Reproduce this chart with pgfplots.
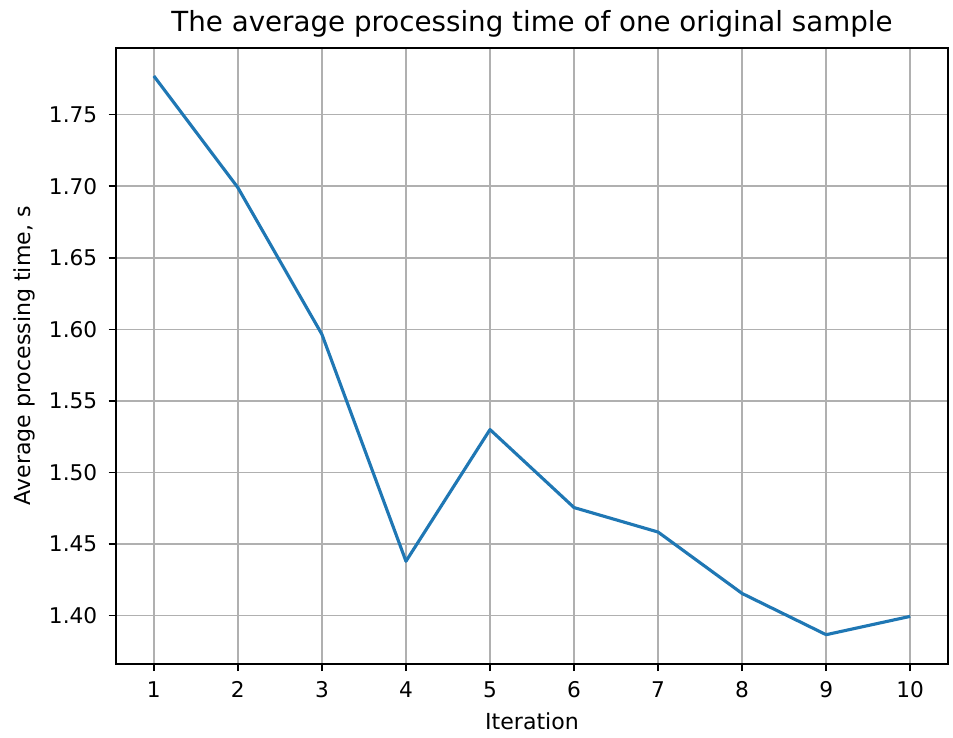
\documentclass[border=0pt]{standalone}
\usepackage{fontspec}
\setmainfont{DejaVu Sans}
\usepackage{pgfplots}
\pgfplotsset{compat=1.18}
\usetikzlibrary{calc}
\definecolor{mplblue}{HTML}{1F77B4}
\definecolor{mplgrid}{HTML}{B0B0B0}
\begin{document}
\begin{tikzpicture}
\begin{axis}[
  name=ax,
  scale only axis,
  width=399.4pt, height=295.7pt,
  xmin=0.55, xmax=10.45,
  ymin=1.3663, ymax=1.7966,
  xtick={1,...,10},
  ytick={1.40,1.45,1.50,1.55,1.60,1.65,1.70,1.75},
  yticklabel style={xshift=-2pt, /pgf/number format/.cd, fixed, fixed zerofill, precision=2},
  /pgf/number format/assume math mode=true,
  tick align=outside,
  xtick pos=bottom, ytick pos=left,
  major tick length=3.5pt,
  every tick/.style={black, line width=0.8pt},
  grid=major,
  major grid style={mplgrid, line width=0.8pt},
  axis line style={black, line width=0.8pt},
  tick label style={font=\fontsize{10.4}{12}\selectfont},
  xticklabel style={yshift=-1.5pt},
  label style={font=\fontsize{10.6}{12}\selectfont},
  title style={font=\fontsize{13.3}{15}\selectfont, at={(axis description cs:0.5,1)}, anchor=base, yshift=1.9pt},
  title={The average processing time of one original sample},
  xlabel={Iteration},
  xlabel style={at={(axis description cs:0.5,0)}, anchor=center, yshift=-27.4pt},
  ylabel={Average processing time, s},
  ylabel style={at={(axis description cs:0,0.5)}, anchor=center, yshift=44.2pt},
]
\addplot[mplblue, line width=1.5pt, line join=round] coordinates {
(1,1.777) (2,1.699) (3,1.5965) (4,1.438) (5,1.530) (6,1.4755) (7,1.4584) (8,1.4155) (9,1.3867) (10,1.3995)
};
\end{axis}
\pgfresetboundingbox
\path ($(ax.south west)+(-55.7pt,-35.5pt)$) rectangle ($(ax.north east)+(2.4pt,23pt)$);
\end{tikzpicture}
\end{document}
